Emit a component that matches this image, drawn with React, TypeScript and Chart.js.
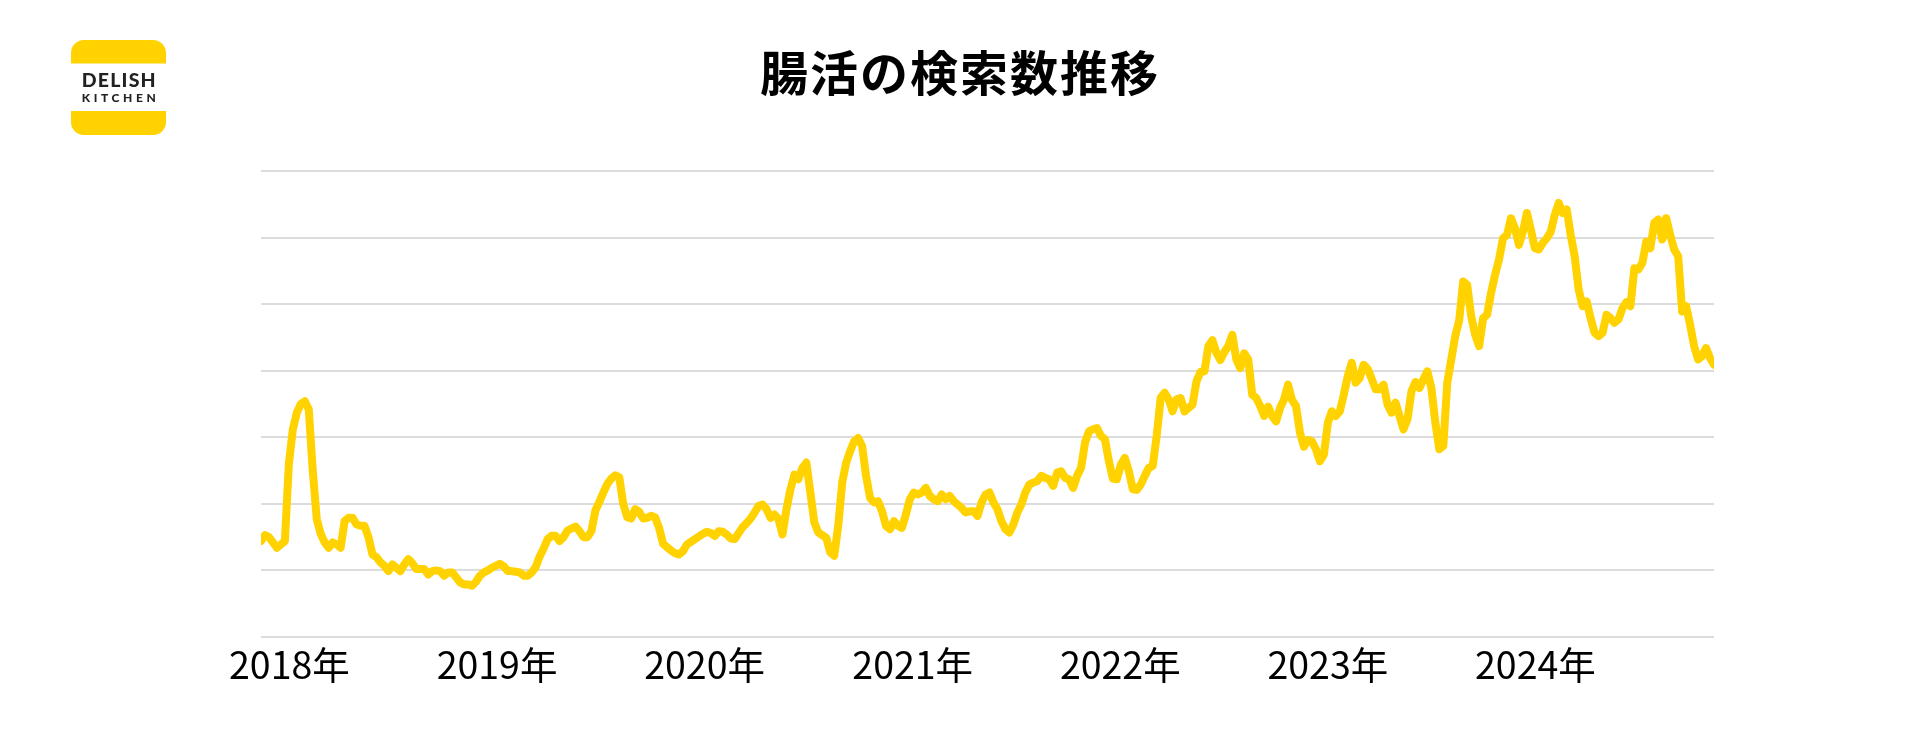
import React, { useEffect, useRef } from "react";
import { Chart, registerables } from "chart.js";

Chart.register(...registerables);

// ---- data ----
const TITLE = "腸活の検索数推移";
const START_DATE = "2017-11-12"; // first weekly data point
const tickYears = [2018, 2019, 2020, 2021, 2022, 2023, 2024];
const tickSuffix = "年";
const yMin = 0;
const yMax = 70;
const yStep = 10;

// weekly search interest (index = week from START_DATE)
const weeklyValues: number[] = [
  14.4, 15.3, 15.0, 14.2, 13.4, 13.9, 14.4, 26.0, 31.2, 33.7,
  35.0, 35.4, 34.2, 25.0, 17.7, 15.5, 14.2, 13.4, 14.2, 13.9,
  13.4, 17.4, 17.9, 17.9, 16.9, 16.7, 16.7, 15.0, 12.4, 12.0,
  11.2, 10.7, 9.9, 10.9, 10.4, 9.9, 10.9, 11.7, 11.1, 10.2,
  10.2, 10.2, 9.4, 9.9, 10.0, 9.9, 9.2, 9.7, 9.7, 9.0,
  8.2, 7.9, 7.9, 7.7, 8.3, 9.2, 9.7, 10.0, 10.4, 10.7,
  11.0, 10.6, 9.9, 9.9, 9.8, 9.7, 9.2, 9.2, 9.7, 10.5,
  12.1, 13.3, 14.7, 15.2, 15.2, 14.4, 15.0, 16.0, 16.3, 16.6,
  15.9, 15.0, 15.0, 15.9, 19.0, 20.3, 21.7, 23.0, 23.8, 24.3,
  24.0, 20.0, 18.0, 17.8, 19.2, 18.8, 17.8, 17.9, 18.2, 18.0,
  16.4, 14.0, 13.5, 13.0, 12.6, 12.4, 12.9, 13.9, 14.3, 14.7,
  15.1, 15.5, 15.8, 15.6, 15.2, 15.9, 15.8, 15.4, 14.8, 14.7,
  15.6, 16.5, 17.1, 17.8, 18.7, 19.7, 19.9, 19.2, 17.9, 18.4,
  17.7, 15.4, 19.2, 22.2, 24.4, 23.7, 25.4, 26.2, 21.7, 17.2,
  15.7, 15.3, 14.9, 12.7, 12.2, 16.7, 23.2, 26.2, 27.9, 29.4,
  29.9, 28.7, 24.2, 20.9, 20.2, 20.4, 18.9, 16.7, 16.2, 17.4,
  16.7, 16.4, 18.4, 20.7, 21.7, 21.4, 21.7, 22.4, 21.2, 20.7,
  20.4, 21.4, 20.7, 21.2, 20.4, 19.9, 19.4, 18.7, 18.9, 18.9,
  18.2, 20.2, 21.4, 21.7, 20.2, 19.2, 17.4, 16.2, 15.7, 16.9,
  18.7, 19.9, 21.7, 22.9, 23.2, 23.4, 24.2, 23.9, 23.7, 22.7,
  24.7, 24.9, 23.9, 23.7, 22.4, 24.2, 25.4, 29.2, 30.9, 31.2,
  31.4, 30.2, 29.7, 26.4, 23.8, 23.7, 25.9, 26.9, 24.9, 22.2,
  22.1, 22.9, 24.2, 25.4, 25.7, 30.2, 35.9, 36.7, 35.7, 33.9,
  35.7, 35.9, 33.9, 34.4, 34.9, 38.4, 39.8, 39.9, 43.7, 44.6,
  42.7, 41.6, 42.8, 43.7, 45.4, 41.7, 40.4, 42.6, 41.7, 36.4,
  35.9, 34.7, 33.2, 34.6, 33.2, 32.4, 34.4, 35.7, 37.9, 35.6,
  34.7, 30.7, 28.6, 29.6, 29.4, 28.2, 26.4, 27.4, 32.2, 33.9,
  33.2, 33.9, 36.4, 39.2, 41.2, 38.2, 38.9, 40.9, 40.3, 38.8,
  37.2, 37.2, 37.9, 34.9, 33.7, 35.2, 33.2, 31.2, 32.7, 36.9,
  38.3, 37.4, 38.7, 39.9, 37.4, 32.2, 28.2, 28.7, 38.2, 41.7,
  45.2, 47.6, 53.4, 52.9, 48.2, 45.4, 43.7, 47.9, 48.4, 51.7,
  54.4, 56.7, 59.9, 60.4, 62.9, 61.4, 58.9, 60.9, 63.7, 61.2,
  58.4, 58.2, 59.2, 59.9, 60.9, 63.4, 65.2, 63.7, 64.2, 60.4,
  57.2, 52.2, 49.7, 50.4, 47.9, 45.7, 45.2, 45.7, 48.4, 47.9,
  47.2, 47.7, 49.4, 50.3, 49.7, 55.4, 55.2, 56.2, 59.4, 58.4,
  62.2, 62.7, 59.7, 62.9, 60.4, 58.2, 57.2, 48.9, 49.7, 46.9,
  43.7, 41.7, 42.2, 43.4, 41.9, 40.9,
];

const LINE_COLOR = "#FFD200";
const LOGO_YELLOW = "#FFD200";

const WEEK_MS = 7 * 24 * 3600 * 1000;
const startMs = Date.parse(START_DATE + "T00:00:00Z");
const weekOfYearStart = (y: number) => (Date.UTC(y, 0, 1) - startMs) / WEEK_MS;

function Logo() {
  return (
    <svg
      width={95}
      height={95}
      viewBox="0 0 95 95"
      style={{ position: "absolute", left: 71, top: 40 }}
    >
      <defs>
        <clipPath id="logoClip">
          <rect x={0} y={0} width={95} height={95} rx={13} ry={13} />
        </clipPath>
      </defs>
      <g clipPath="url(#logoClip)">
        <rect x={0} y={0} width={95} height={95} fill={LOGO_YELLOW} />
        <rect x={0} y={23.5} width={95} height={47.5} fill="#ffffff" />
      </g>
      <text
        x={10.7}
        y={47}
        textLength={74}
        lengthAdjust="spacing"
        fill="#222222"
        style={{ fontFamily: "Lato", fontWeight: 900, fontSize: 19.5 }}
      >
        DELISH
      </text>
      <text
        x={10.7}
        y={61.7}
        textLength={74}
        lengthAdjust="spacing"
        fill="#222222"
        style={{ fontFamily: "Lato", fontWeight: 900, fontSize: 12 }}
      >
        KITCHEN
      </text>
    </svg>
  );
}

export default function App() {
  const canvasRef = useRef<HTMLCanvasElement | null>(null);

  useEffect(() => {
    const canvas = canvasRef.current;
    if (!canvas) return;
    const points = weeklyValues.map((v, i) => ({ x: i, y: v }));
    const chart = new Chart(canvas, {
      type: "line",
      data: {
        datasets: [
          {
            data: points as any,
            borderColor: LINE_COLOR,
            backgroundColor: LINE_COLOR,
            borderWidth: 8,
            pointRadius: 0,
            pointHoverRadius: 0,
            tension: 0,
            spanGaps: true,
            fill: false,
            borderJoinStyle: "round",
            borderCapStyle: "round",
          },
        ],
      },
      options: {
        responsive: false,
        animation: false,
        events: [],
        layout: { padding: { left: 261, right: 206, top: 171, bottom: 0 } },
        plugins: {
          legend: { display: false },
          tooltip: { enabled: false },
          title: { display: false },
        },
        scales: {
          x: {
            type: "linear",
            min: 0,
            max: weeklyValues.length - 1,
            grid: { display: false, drawTicks: false },
            border: { display: false },
            afterBuildTicks: (s: any) => {
              s.ticks = tickYears.map((y) => ({ value: weekOfYearStart(y) }));
            },
            afterFit: (s: any) => {
              s.height = 114;
              s.paddingLeft = 0;
              s.paddingRight = 0;
            },
            ticks: {
              autoSkip: false,
              maxRotation: 0,
              minRotation: 0,
              padding: 5,
              color: "#000000",
              font: { family: '"Noto Sans CJK JP", sans-serif', size: 37.5 },
              callback: (_v: any, i: number) => `${tickYears[i]}${tickSuffix}`,
            },
          },
          y: {
            min: yMin,
            max: yMax,
            grid: { color: "#dcdcdc", lineWidth: 2, drawTicks: false },
            border: { display: false },
            ticks: { display: false, stepSize: yStep },
            afterFit: (s: any) => {
              s.width = 0;
            },
          },
        },
      },
    });
    return () => chart.destroy();
  }, []);

  return (
    <div
      style={{
        position: "absolute",
        left: 0,
        top: 0,
        width: 1920,
        height: 751,
        background: "#ffffff",
        overflow: "hidden",
      }}
    >
      <canvas
        ref={canvasRef}
        width={1920}
        height={751}
        style={{ position: "absolute", left: 0, top: 0, width: 1920, height: 751 }}
      />
      <div
        style={{
          position: "absolute",
          left: 0,
          top: 46,
          width: 1920,
          textAlign: "center",
          fontFamily: '"Noto Sans CJK JP", sans-serif',
          fontWeight: 700,
          fontSize: 48,
          lineHeight: "48px",
          letterSpacing: 2,
          color: "#000000",
        }}
      >
        {TITLE}
      </div>
      <Logo />
    </div>
  );
}
